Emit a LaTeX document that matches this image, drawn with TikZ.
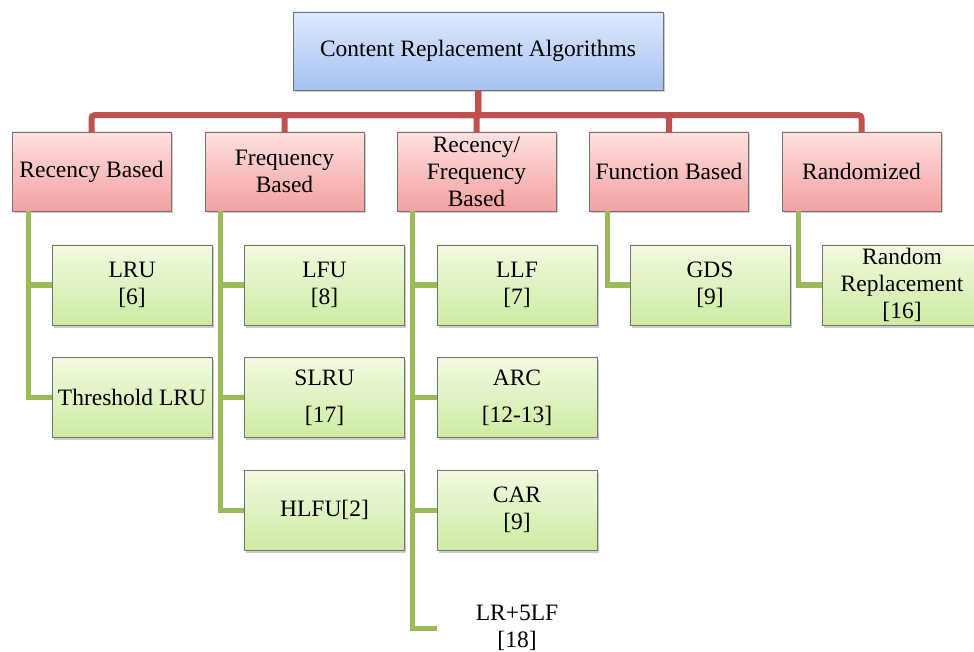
\documentclass[tikz,border=0pt]{standalone}
\usepackage{fontspec}
\setmainfont{Liberation Serif}
\usetikzlibrary{shapes,arrows,shadows}
\definecolor{rootTop}{RGB}{222,233,252}
\definecolor{rootBot}{RGB}{166,194,240}
\definecolor{grpTop}{RGB}{253,224,224}
\definecolor{grpBot}{RGB}{244,160,160}
\definecolor{algTop}{RGB}{241,250,224}
\definecolor{algBot}{RGB}{206,235,162}
\definecolor{redLn}{RGB}{192,80,77}
\definecolor{greenLn}{RGB}{155,187,89}
\tikzset{%
	box/.style      = {draw=black!55, rectangle, inner sep=0pt, align=center,
		font=\fontsize{23.5}{27}\selectfont,
		drop shadow={opacity=0.4, shadow xshift=1.5pt, shadow yshift=-2.5pt}},
	root/.style     = {box, top color=rootTop, bottom color=rootBot,
		minimum width=370pt, minimum height=78pt},
	group/.style    = {box, top color=grpTop, bottom color=grpBot,
		minimum width=159pt, minimum height=79pt}, % second level
	algo/.style     = {box, top color=algTop, bottom color=algBot,
		minimum width=160pt, minimum height=80pt}, % leaves
	redline/.style  = {draw=redLn, line width=6pt, rounded corners=3pt},
	greenline/.style= {draw=greenLn, line width=5pt}
}

\begin{document}
\begin{tikzpicture}[x=1pt,y=-1pt]
	\clip (0,0) rectangle (974,652);
	\useasboundingbox (0,0) rectangle (974,652);

	\node[root]  (top)  at (478,51)    {Content Replacement Algorithms};

	\node[group] (rec)  at (91.5,171.5)  {Recency Based};
	\node[group] (freq) at (284.5,171.5) {Frequency\\Based};
	\node[group] (rf)   at (476.5,171.5) {Recency/\\Frequency\\Based};
	\node[group] (func) at (669,171.5)   {Function Based};
	\node[group] (rnd)  at (861.5,171.5) {Randomized};

	\node[algo]  (lru)   at (132,285)    {LRU\\{[6]}};
	\node[algo]  (tlru)  at (132,397.5)  {Threshold LRU};
	\node[algo]  (lfu)   at (324.5,285)  {LFU\\{[8]}};
	\node[algo]  (slru)  at (324.5,397.5){SLRU\\[10pt]{[17]}};
	\node[algo]  (hlfu)  at (324.5,510)  {HLFU[2]};
	\node[algo]  (llf)   at (517,285)    {LLF\\{[7]}};
	\node[algo]  (arc)   at (517,397.5)  {ARC\\[10pt]{[12-13]}};
	\node[algo]  (car)   at (517,510)    {CAR\\{[9]}};
	\node[align=center, inner sep=0pt, minimum width=160pt,
		font=\fontsize{23.5}{27}\selectfont] (lrlf) at (517,628) {LR+5LF\\{[18]}};
	\node[algo]  (gds)   at (710,285)    {GDS\\{[9]}};
	\node[algo]  (rr)    at (902,285)    {Random\\Replacement\\{[16]}};

	% top level
	\foreach \g in {rec,freq,rf,func,rnd}
		\draw[redline] (top.south) -- ++(0,25) -| (\g.north);

	% leaves
	\draw[greenline] ([xshift=17pt]rec.south west)  |- (lru.west);
	\draw[greenline] ([xshift=17pt]rec.south west)  |- (tlru.west);
	\draw[greenline] ([xshift=16pt]freq.south west) |- (lfu.west);
	\draw[greenline] ([xshift=16pt]freq.south west) |- (slru.west);
	\draw[greenline] ([xshift=16pt]freq.south west) |- (hlfu.west);
	\draw[greenline] ([xshift=16pt]rf.south west)   |- (llf.west);
	\draw[greenline] ([xshift=16pt]rf.south west)   |- (arc.west);
	\draw[greenline] ([xshift=16pt]rf.south west)   |- (car.west);
	\draw[greenline] ([xshift=16pt]rf.south west)   |- (lrlf.west);
	\draw[greenline] ([xshift=18pt]func.south west) |- (gds.west);
	\draw[greenline] ([xshift=17pt]rnd.south west)  |- (rr.west);
\end{tikzpicture}
\end{document}
